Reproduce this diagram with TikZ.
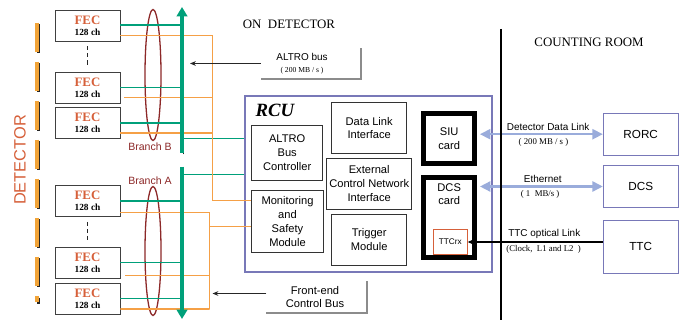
\documentclass[tikz,border=0pt]{standalone}
\usepackage{fontspec}
\setmainfont{Liberation Serif}
\setsansfont{Liberation Sans}
\usetikzlibrary{positioning, arrows.meta, shapes.geometric}

\definecolor{busgreen}{RGB}{0,160,122}
\definecolor{wireorange}{RGB}{245,160,70}
\definecolor{fecred}{RGB}{214,96,58}
\definecolor{branchred}{RGB}{140,40,40}
\definecolor{rcublue}{RGB}{120,120,184}
\definecolor{linkblue}{RGB}{154,172,219}
\definecolor{bargold}{RGB}{242,164,56}

\newcommand{\fectext}{{\fontsize{11}{9.4}\selectfont\color{fecred}FEC}\\128 ch}

\begin{document}
\begin{tikzpicture}[x=0.03cm, y=-0.03cm,
    fecbox/.style={rectangle, draw=black!75, line width=0.6pt, minimum width=1.95cm, minimum height=0.93cm, inner sep=0pt, align=center, font=\bfseries\fontsize{8}{9.4}\selectfont},
    modbox/.style={rectangle, draw=black!80, line width=0.7pt, inner sep=0pt, align=center, font=\sffamily\fontsize{9.5}{11.8}\selectfont},
    cardbox/.style={rectangle, draw=black, line width=0.15cm, inner sep=0pt, align=center, minimum width=1.54cm, font=\sffamily\fontsize{9.5}{11.8}\selectfont},
    cardtext/.style={align=center, inner sep=0pt, font=\sffamily\fontsize{9.5}{11.8}\selectfont},
    ttcrxbox/.style={rectangle, draw=fecred, line width=0.6pt, minimum width=1.02cm, minimum height=0.75cm, inner sep=0pt, font=\sffamily\fontsize{7}{8}\selectfont},
    crbox/.style={rectangle, draw=rcublue, line width=0.8pt, minimum width=2.24cm, minimum height=1.25cm, font=\sffamily\fontsize{10}{12}\selectfont},
    rcubox/.style={rectangle, draw=rcublue, line width=0.9pt, minimum width=7.41cm, minimum height=5.28cm},
    rculbl/.style={inner sep=0pt, font=\bfseries\itshape\fontsize{16}{16}\selectfont},
    grwire/.style={draw=busgreen, line width=1.7pt},
    orwire/.style={draw=wireorange, line width=1.3pt},
    busline/.style={draw=busgreen, line width=3pt},
    busshadow/.style={draw=black!85, line width=1.3pt},
    bar/.style={draw=bargold, line width=2.8pt},
    barshadow/.style={draw=black!85, line width=2.8pt},
    fecdots/.style={draw=black!85, line width=1.6pt, dash pattern=on 3.5pt off 2.5pt, shorten <=0.15cm, shorten >=0.15cm},
    branchring/.style={ellipse, draw=branchred, line width=1.1pt, minimum width=0.48cm, inner sep=0pt},
    branchlbl/.style={text=branchred, font=\sffamily\fontsize{9}{10}\selectfont, inner sep=1pt},
    lblbox/.style={rectangle, minimum width=3cm, minimum height=0.9cm, inner sep=0pt},
    lblshadow/.style={draw=black!45, line width=1.7pt},
    lbltext/.style={align=center, inner sep=0pt},
    ctrlarrow/.style={draw=black!85, line width=0.8pt, -{Stealth[length=5pt, width=4pt]}},
    linkarrow/.style={draw=linkblue, line width=2.2pt, {Triangle[width=8.5pt, length=9pt]}-{Triangle[width=8.5pt, length=9pt]}},
    ttcarrow/.style={draw=black, line width=1.6pt, -{Stealth[length=7pt, width=6pt]}},
    linklbl/.style={font=\sffamily\fontsize{8.5}{10}\selectfont, inner sep=1pt},
    ratelbl/.style={font=\fontsize{7.5}{8}\selectfont, inner sep=1pt},
    roomlbl/.style={font=\fontsize{11}{13}\selectfont},
    sepline/.style={draw=black, line width=1.5pt}
]
\useasboundingbox (0,0) rectangle (681,320);

% detector segments
\foreach \k in {0,...,6}{
    \draw[barshadow] (38.5,{24.2+39*\k}) -- ++(0,29);
    \draw[bar] (37,{22.7+39*\k}) -- ++(0,29);
}
\draw[barshadow] (38.5,297.5) -- ++(0,6);
\draw[bar] (37,296) -- ++(0,5.5);
\node[rotate=90, text=fecred, font=\sffamily\fontsize{14}{14}\selectfont] (dettxt) at (20,160) {DETECTOR};

% front-end cards
\node[fecbox] (fec1) at (87.5,25.5) {\fectext};
\node[fecbox] (fec2) at (87.5,87.5) {\fectext};
\node[fecbox] (fec3) at (87.5,123) {\fectext};
\node[fecbox] (fec4) at (87.5,201) {\fectext};
\node[fecbox] (fec5) at (87.5,262.5) {\fectext};
\node[fecbox] (fec6) at (87.5,298.5) {\fectext};
\draw[fecdots] (fec1.south) -- (fec2.north);
\draw[fecdots] (fec4.south) -- (fec5.north);

% branches
\node[branchring, minimum height=3.93cm] (ringB) at (153,75) {};
\node[branchring, minimum height=3.87cm] (ringA) at (153,251) {};
\node[branchlbl, below=0pt of ringB, xshift=-0.09cm] (brB) {Branch B};
\node[branchlbl, above=0pt of ringA, xshift=-0.09cm] (brA) {Branch A};

% bus and wire coordinates
\coordinate (busBtop) at (182,7);
\coordinate (busBbot) at (182,153);
\coordinate (busAtop) at (182,167);
\coordinate (busAbot) at (182,319);
\coordinate (gB) at (182,138.5);
\coordinate (gA) at (182,174.5);
\coordinate (orBbot) at (212.5,200.5);
\coordinate (orAmid) at (209.5,226.5);
\coordinate (orAbot) at (209.5,309);

% RCU
\node[rcubox] (rcu) at (368.5,184) {};
\node[rculbl, below right=0.24cm and 0.33cm of rcu.north west] (rcut) {RCU};
\node[modbox, minimum width=2.13cm, minimum height=1.67cm] (abc) at (287.2,152.9) {ALTRO\\Bus\\Controller};
\node[modbox, minimum width=2.15cm, minimum height=1.85cm] (msm) at (287.5,221.5) {Monitoring\\and\\Safety\\Module};
\node[modbox, minimum width=2.25cm, minimum height=1.52cm] (dli) at (369.2,128) {Data Link\\Interface};
\node[modbox, minimum width=2.55cm, minimum height=1.53cm] (ecn) at (369.2,183.8) {External\\Control Network\\Interface};
\node[modbox, minimum width=2.25cm, minimum height=1.53cm] (trg) at (369.2,239.5) {Trigger\\Module};
\node[cardbox, minimum height=1.51cm] (siu) at (449.2,138.3) {SIU\\card};
\node[cardbox, minimum height=2.4cm] (dcsc) at (449.2,217.5) {};
\node[cardtext, below=0.24cm of dcsc.north] (dcst) {DCS\\card};
\node[ttcrxbox] (ttcrx) at (450.3,242) {TTCrx};

% wires
\draw[grwire] (fec1.east) -- (fec1.east -| busBtop);
\draw[grwire] (fec2.east) -- (fec2.east -| busBtop);
\draw[grwire] (fec3.east) -- (fec3.east -| busBtop);
\draw[grwire] (fec4.east) -- (fec4.east -| busAtop);
\draw[grwire] (fec5.east) -- (fec5.east -| busAtop);
\draw[grwire] (fec6.east) -- (fec6.east -| busAtop);
\draw[grwire] (gB) -- (gB -| rcu.west);
\draw[grwire] (gA) -- (gA -| rcu.west);
\draw[orwire] ([yshift=-0.3cm]fec1.east) -| (orBbot) -- (orBbot -| msm.west);
\draw[orwire] ([shift={(0.12cm,-0.3cm)}]fec2.east) -| (orBbot);
\draw[orwire] ([yshift=-0.3cm]fec3.east) -| (orBbot);
\draw[orwire] ([yshift=-0.35cm]fec4.east) -| (orAbot);
\draw[orwire] ([shift={(0.15cm,-0.39cm)}]fec5.east) -| (orAbot);
\draw[orwire] ([yshift=-0.315cm]fec6.east) -- (orAbot);
\draw[orwire] (orAmid) -- (orAmid -| msm.west);

% readout buses
\draw[busshadow] ([shift={(1.5,1.5)}]busBbot) -- ([shift={(1.5,10)}]busBtop);
\draw[busline, -{Triangle[width=9pt, length=8pt]}] (busBbot) -- (busBtop);
\draw[busshadow] ([shift={(1.5,0)}]busAtop) -- ([shift={(1.5,-9)}]busAbot);
\draw[busline, -{Triangle[width=9pt, length=8pt]}] (busAtop) -- (busAbot);

% bus labels
\node[lblbox] (altrobox) at (311,63.5) {};
\node[lbltext, font=\sffamily\fontsize{8.5}{10.5}\selectfont] (altrot) at ([xshift=-0.27cm]altrobox.center) {ALTRO bus\\{\rmfamily\fontsize{6.5}{7}\selectfont ( 200 MB / s )}};
\draw[lblshadow] (altrobox.north east) |- (altrobox.south west);
\coordinate (altrotip) at (190,63.5);
\draw[ctrlarrow] (altrobox.west) -- (altrotip);

\node[lblbox, minimum height=0.92cm] (fcbbox) at (316.7,297) {};
\node[lbltext, font=\sffamily\fontsize{9.5}{11}\selectfont] (fcbt) at ([xshift=-0.05cm]fcbbox.center) {Front-end\\Control Bus};
\draw[lblshadow] (fcbbox.north east) |- (fcbbox.south west);
\coordinate (fcbtip) at (212.5,293.5);
\draw[ctrlarrow] ([yshift=0.105cm]fcbbox.west) -- (fcbtip);

% counting room
\node[crbox] (rorc) at (640.7,134.2) {RORC};
\node[crbox] (dcsr) at (640.7,186.5) {DCS};
\node[crbox, minimum height=1.6cm] (ttc) at (640.7,246.7) {TTC};

\draw[linkarrow, shorten <=0.075cm] (rorc.west -| siu.east) -- (rorc.west)
    node[linklbl, midway, above=1pt, xshift=0.24cm] (ddl) {Detector Data Link}
    node[ratelbl, midway, below=1.5pt, xshift=0.1cm] (ddlr) {( 200 MB / s )};
\draw[linkarrow, shorten <=0.075cm] (dcsr.west -| dcsc.east) -- (dcsr.west)
    node[linklbl, midway, above=1pt, xshift=0.08cm] (eth) {Ethernet}
    node[ratelbl, midway, below=1.5pt] (ethr) {( 1~ MB/s )};
\draw[ttcarrow] (ttcrx.east -| ttc.west) -- (ttcrx.east)
    node[linklbl, midway, above=1pt, xshift=0.27cm] (ttcl) {TTC optical Link}
    node[ratelbl, midway, below=1.5pt, xshift=0.25cm] (ttcr) {(Clock,~ L1 and L2~ )};

% zones
\coordinate (sepTop) at (501,29);
\coordinate (sepBot) at (501,320);
\draw[sepline] (sepTop) -- (sepBot);
\node[roomlbl] (ondet) at (289,24) {ON~ DETECTOR};
\node[roomlbl] (cntroom) at (589,42) {COUNTING ROOM};
\end{tikzpicture}
\end{document}
